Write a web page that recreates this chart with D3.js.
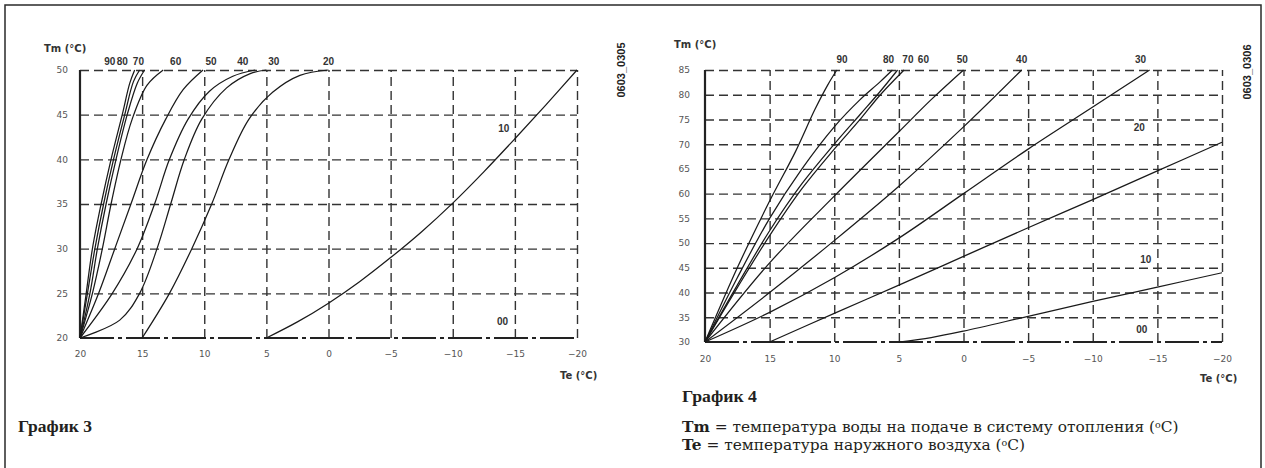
<!DOCTYPE html>
<html><head><meta charset="utf-8">
<script src="https://cdn.jsdelivr.net/npm/d3@7"></script>
<style>body{margin:0;background:#fff}svg{display:block}</style>
</head><body>
<svg id="c" width="1265" height="468"></svg>
<script>
// ---------- data ----------
const teTicks = [20, 15, 10, 5, 0, -5, -10, -15, -20];
const tm3Ticks = [20, 25, 30, 35, 40, 45, 50];
const tm4Ticks = [30, 35, 40, 45, 50, 55, 60, 65, 70, 75, 80, 85];

// График 3 curves  [Te, Tm]
const g3_90 = [[20,20],[19.5,25],[19.0,30],[18.3,35],[17.5,40],[16.6,45],[16.0,48.5],[15.6,50]];
const g3_80 = [[20,20],[19.4,25],[18.8,30],[18.1,35],[17.3,40],[16.4,45],[15.7,48.7],[15.2,50]];
const g3_70 = [[20,20],[19.2,25],[18.6,30],[17.9,35],[17.1,40],[16.2,45],[15.4,48.5],[14.8,50]];
const g3_60 = [[20,20],[19.0,25],[18.2,30],[17.5,35],[16.7,40],[15.8,44.5],[14.6,48.3],[13.3,50]];
const g3_50 = [[20,20],[18.5,25],[17.2,30],[15.9,35],[14.6,40],[13.1,44.5],[11.7,47.8],[10.1,50]];
const g3_40 = [[20,20],[17.4,25],[15.4,30],[14.0,35],[12.8,40],[11.3,44.5],[9.6,47.6],[7.7,49.3],[5.9,50]];
const g3_30 = [[20,20],[16.8,22],[15.2,25],[13.8,30],[12.7,35],[11.6,40],[10.2,44.5],[8.2,48],[6.3,49.6],[5.0,50]];
const g3_20 = [[15,20],[12.8,25],[11.0,30],[9.4,35],[8.0,40],[6.4,44.5],[4.5,47.5],[2.3,49.4],[0,50]];
const g3_10 = [[5,20],[2.5,21.8],[0,23.9],[-2.5,26.3],[-5,29.0],[-7.5,31.9],[-10,35.1],[-12.5,38.6],[-15,42.3],[-17.5,46.1],[-20,50]];
const g3_00 = [[20,20],[-20,20]];
const g3Names = ["90","80","70","60","50","40","30","20","10","00"];

// График 4 curves  [Te, Tm]
const g4_90 = [[20,30],[17.5,45],[15,58.5],[13,68.5],[11.5,77],[10.5,82],[9.8,85]];
const g4_80 = [[20,30],[17.5,43],[15,55],[12.5,65],[10,73.5],[8,79],[6.5,82.5],[5.5,85]];
const g4_70 = [[20,30],[17.5,41.5],[15,52.5],[12.5,62],[10,70],[8,76],[6.5,80.5],[5.1,85]];
const g4_60 = [[20,30],[17.5,41],[15,51.5],[12.5,61],[10,69],[8,75],[6.5,79.8],[4.6,85]];
const g4_50 = [[20,30],[15,46],[10,59.5],[5,72.5],[2.5,79],[0,85]];
const g4_40 = [[20,30],[15,40],[10,50.5],[5,61.5],[0,73.5],[-4.5,85]];
const g4_30 = [[20,30],[15,36],[10,43],[5,51],[0,60],[-5,69],[-10,77.5],[-14.4,85]];
const g4_20 = [[15,30],[10,35.8],[5,41.5],[0,47.3],[-5,53.1],[-10,58.8],[-15,64.6],[-20,70.4]];
const g4_10 = [[5,30],[2.5,30.9],[0,32.2],[-5,35.2],[-10,38.2],[-15,41.1],[-20,44]];
const g4_00 = [[20,30],[-20,30]];
const g4Names = ["90","80","70","60","50","40","30","20","10","00"];

// curve label anchors [Te, Tm]
const g3LabelAt = [[17.6,50.9],[16.6,50.9],[15.3,50.9],[12.3,50.9],[9.45,50.9],[6.9,50.9],[4.4,50.9],[0.0,50.9],[-14.1,43.3],[-14.0,21.7]];
const g4LabelAt = [[9.4,87],[5.8,87],[4.3,87],[3.1,87],[0.1,87],[-4.5,87],[-13.7,87],[-13.6,73.3],[-14.1,46.6],[-13.8,32.4]];

// ---------- drawing ----------
const svg = d3.select("#c");
svg.append("rect").attr("x",5).attr("y",5).attr("width",1256).attr("height",470)
  .attr("fill","none").attr("stroke","#2a2a2a").attr("stroke-width",1.5);

function chart(cfg){
  const {x,y,yTicks,curves,names,labelAt,ytitle,xtitle} = cfg;
  const g = svg.append("g");
  const [x0,x1] = x.range(), [y0,y1] = y.range();
  const ya = d3.axisLeft(y).tickValues(yTicks).tickSize(-(x1-x0)).tickPadding(cfg.yPad).tickFormat(d3.format("d"));
  const gy = g.append("g").attr("transform",`translate(${x0},0)`).call(ya);
  gy.select(".domain").remove();
  gy.selectAll("line").attr("stroke","#333").attr("stroke-width",1.4).attr("stroke-dasharray","9,5")
    .filter(d=>d===yTicks[0]).remove();
  gy.selectAll("text").attr("font-family","DejaVu Sans, sans-serif").attr("font-size",9).attr("fill","#555");
  const xa = d3.axisBottom(x).tickValues(teTicks).tickSize(-(y0-y1)).tickPadding(cfg.xPad).tickFormat(d3.format("d"));
  const gx = g.append("g").attr("transform",`translate(0,${y0})`).call(xa);
  gx.select(".domain").remove();
  gx.selectAll("line").attr("stroke","#333").attr("stroke-width",1.4).attr("stroke-dasharray","9,5")
    .filter(d=>d===teTicks[0]).remove();
  gx.selectAll("text").attr("font-family","DejaVu Sans, sans-serif").attr("font-size",9).attr("fill","#555");
  g.append("line").attr("x1",x0).attr("x2",x0).attr("y1",y1).attr("y2",y0)
    .attr("stroke","#222").attr("stroke-width",2.2);
  g.append("line").attr("x1",x0).attr("x2",x1).attr("y1",y0).attr("y2",y0)
    .attr("stroke","#222").attr("stroke-width",1.8).attr("stroke-dasharray","34,4,4,4");
  const line = d3.line().x(d=>x(d[0])).y(d=>y(d[1])).curve(d3.curveCatmullRom.alpha(0.5));
  curves.forEach((c,i)=>{
    if(names[i]==="00") return;
    g.append("path").attr("d",line(c)).attr("fill","none")
      .attr("stroke","#1a1a1a").attr("stroke-width",1.25);
  });
  names.forEach((n,i)=>{
    g.append("text").attr("x",x(labelAt[i][0])).attr("y",y(labelAt[i][1]))
      .attr("text-anchor","middle").attr("dominant-baseline","middle")
      .attr("font-family","Liberation Sans, Arial, sans-serif").attr("font-weight","bold")
      .attr("font-size",10).attr("fill","#333").text(n);
  });
  g.append("text").attr("x",ytitle[0]).attr("y",ytitle[1]).attr("font-family","DejaVu Sans, sans-serif")
    .attr("font-size",10).attr("fill","#333").attr("font-weight","bold").text("Tm (°C)");
  g.append("text").attr("x",xtitle[0]).attr("y",xtitle[1]).attr("font-family","DejaVu Sans, sans-serif")
    .attr("font-size",10).attr("fill","#333").attr("font-weight","bold").text("Te (°C)");
}

chart({
  x: d3.scaleLinear().domain([20,-20]).range([80,577]),
  y: d3.scaleLinear().domain([20,50]).range([338,70]),
  yTicks: tm3Ticks, yPad: 12, xPad: 13,
  curves: [g3_90,g3_80,g3_70,g3_60,g3_50,g3_40,g3_30,g3_20,g3_10,g3_00],
  names: g3Names, labelAt: g3LabelAt,
  ytitle: [44,52], xtitle: [560,379]
});
chart({
  x: d3.scaleLinear().domain([20,-20]).range([705,1222]),
  y: d3.scaleLinear().domain([30,85]).range([342,70]),
  yTicks: tm4Ticks, yPad: 15, xPad: 14,
  curves: [g4_90,g4_80,g4_70,g4_60,g4_50,g4_40,g4_30,g4_20,g4_10,g4_00],
  names: g4Names, labelAt: g4LabelAt,
  ytitle: [674,48], xtitle: [1200,382]
});

[["0603_0305",622,70],["0603_0306",1248,72]].forEach(([t,x,y])=>{
  svg.append("text").attr("transform",`translate(${x},${y}) rotate(-90)`)
    .attr("text-anchor","middle").attr("dominant-baseline","middle")
    .attr("font-family","Liberation Sans, Arial, sans-serif").attr("font-weight","bold")
    .attr("font-size",11).attr("fill","#222").text(t);
});

const serif = "Liberation Serif, Times New Roman, serif";
function fitText(sel, target){
  const w = sel.node().getComputedTextLength();
  const fs = parseFloat(sel.attr("font-size"));
  sel.attr("font-size", (fs*target/w).toFixed(2));
}
fitText(svg.append("text").attr("x",18).attr("y",432).attr("font-family",serif).attr("font-weight","bold")
  .attr("font-size",16).attr("fill","#231f20").text("График 3"), 74);
fitText(svg.append("text").attr("x",682).attr("y",402).attr("font-family",serif).attr("font-weight","bold")
  .attr("font-size",16).attr("fill","#231f20").text("График 4"), 75);

const capFont = "DejaVu Serif, Liberation Serif, serif";
function caption(y, bold, rest){
  const t = svg.append("text").attr("x",682).attr("y",y).attr("font-family",capFont)
    .attr("font-size",14).attr("fill","#231f20");
  t.append("tspan").attr("font-weight","bold").text(bold);
  t.append("tspan").text(rest[0]);
  t.append("tspan").attr("font-size","9.5").attr("dy","-4.5").text("o");
  t.append("tspan").attr("dy","4.5").text(rest[1]);
  return t;
}
const c1 = caption(432, "Tm", [" = температура воды на подаче в систему отопления (", "C)"]);
const c2 = caption(450, "Te", [" =  температура наружного воздуха (", "C)"]);
const w1 = c1.node().getComputedTextLength();
const fsz = Math.max(12.5, Math.min(15.4, 14 * 540 / w1)).toFixed(2);
c1.attr("font-size", fsz); c2.attr("font-size", fsz);
</script>
</body></html>
